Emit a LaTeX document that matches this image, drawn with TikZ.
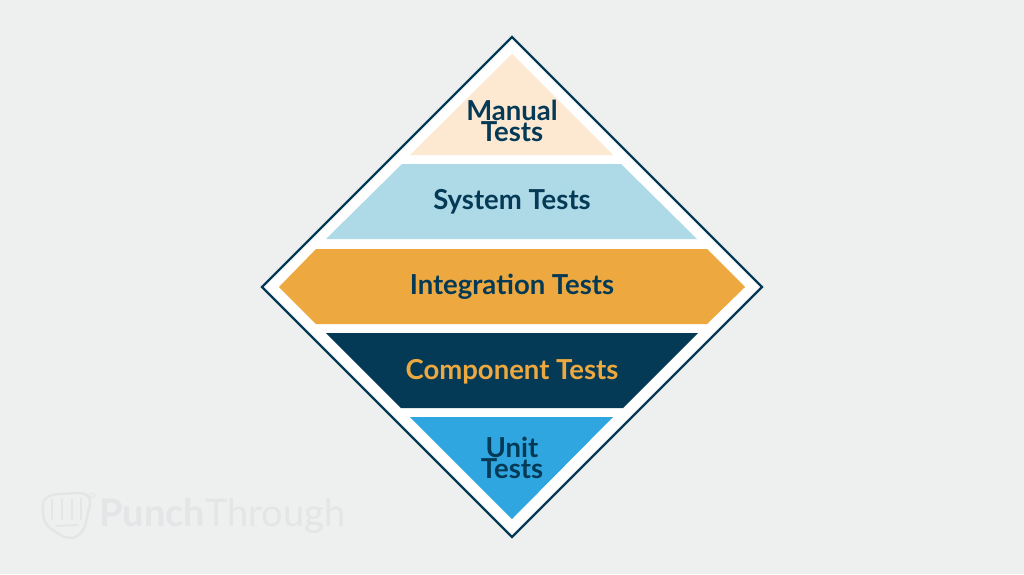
\documentclass[tikz,border=0pt]{standalone}
\usepackage{fontspec}
\setmainfont{Lato}
\definecolor{pagegrey}{HTML}{EEF0EF}
\definecolor{navy}{HTML}{053A57}
\definecolor{peach}{HTML}{FDE8D2}
\definecolor{paleblue}{HTML}{AED9E7}
\definecolor{amber}{HTML}{EDA93F}
\definecolor{skyblue}{HTML}{2FA6E0}
\definecolor{markgrey}{HTML}{E3E5E6}
\tikzset{
  tier/.style={font=\fontsize{27.5}{21}\selectfont\bfseries, text=navy, align=center, inner sep=0pt}
}
\begin{document}
\begin{tikzpicture}[x=1pt, y=-1pt]
    % Page
    \fill[pagegrey] (0,0) rectangle (1024,574);
    \useasboundingbox (0,0) rectangle (1024,574);
    % Diamond
    \filldraw[fill=white, draw=navy, line width=2.4pt, miter limit=10] (512,37) -- (762,287) -- (512,537) -- (262,287) -- cycle;
    % Tiers
    \fill[peach] (512,54) -- (613,155) -- (410,155) -- cycle;
    \fill[paleblue] (402,164) -- (621,164) -- (697,239) -- (326,239) -- cycle;
    \fill[amber] (316,249) -- (707,249) -- (745,287) -- (707,324) -- (316,324) -- (279,287) -- cycle;
    \fill[navy] (326,333) -- (698,333) -- (623,408) -- (401,408) -- cycle;
    \fill[skyblue] (410,417) -- (613,417) -- (512,519) -- cycle;
    % Labels
    \node[tier] (manual) at (512,120.5) {Manual\\Tests};
    \node[tier] (system) at (512,202) {System Tests};
    \node[tier] (integration) at (512,287) {Integration Tests};
    \node[tier, text=amber] (component) at (512,372) {Component Tests};
    \node[tier] (unit) at (512,458) {Unit\\Tests};
    % Watermark
    \node[anchor=west, inner sep=0pt, text=markgrey, font=\fontsize{38}{38}\selectfont] (brand) at (99,516) {{\bfseries Punch}Through};
    \draw[markgrey, line width=2.4pt, line join=round]
        (43,503) .. controls (44,497) and (52,494) .. (60,494) -- (80,493)
        .. controls (88,494) and (91,498) .. (90,504) -- (86,522)
        .. controls (85,530) and (80,536) .. (72,538)
        .. controls (62,538) and (56,532) .. (50,528)
        .. controls (44,524) and (42,514) .. (43,503) -- cycle;
    \foreach \i in {52,62,72,81}
    {
    \draw[markgrey, line width=2pt, line cap=round] (\i,499) -- ++ (0,20);
    }
    \draw[markgrey, line width=2pt, line cap=round] (56,526) -- (78,525);
    \draw[markgrey, line width=0.8pt] (92.5,495.5) circle (2.5);
\end{tikzpicture}
\end{document}
